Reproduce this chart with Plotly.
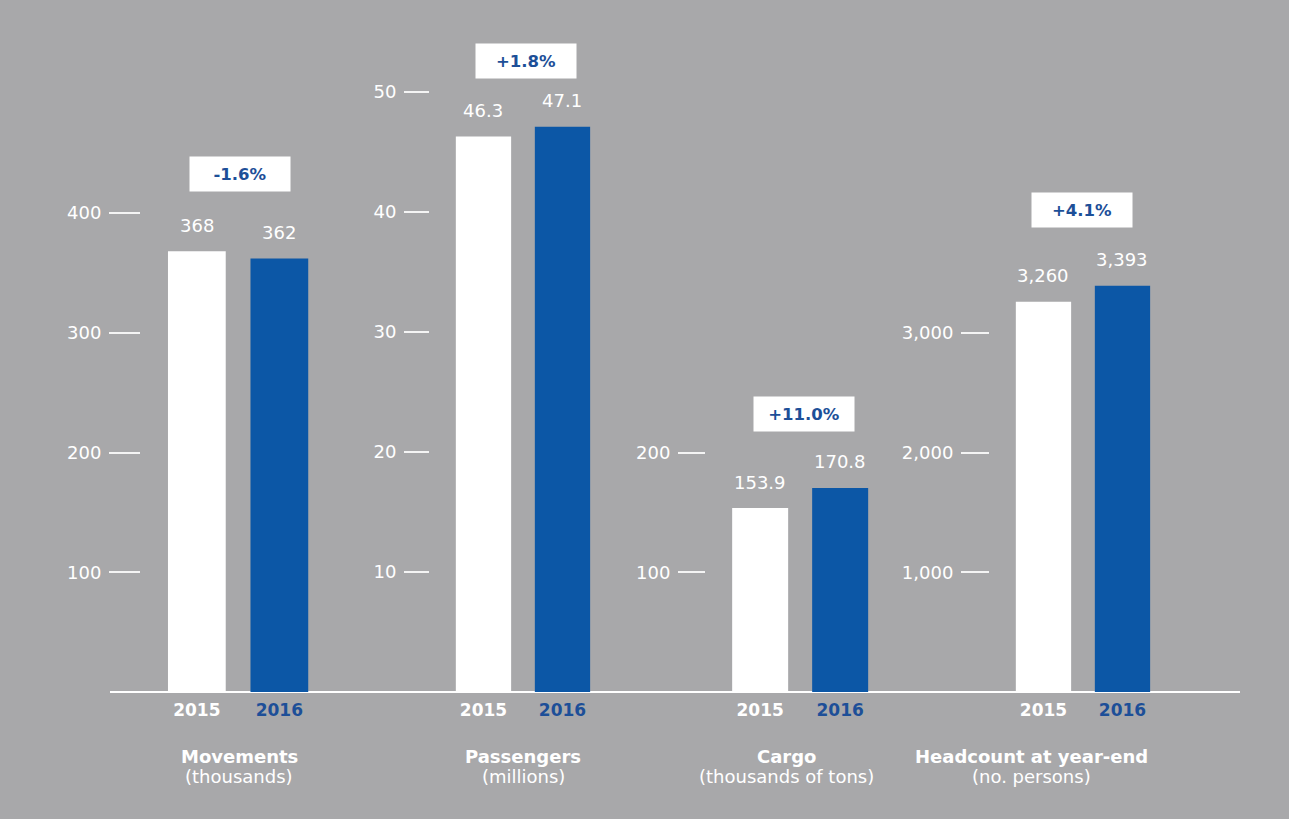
import plotly.graph_objects as go

# ---------------- data ----------------
years = ["2015", "2016"]
movements = [368, 362]
passengers = [46.3, 47.1]
cargo = [153.9, 170.8]
headcount = [3260, 3393]

changes = ["-1.6%", "+1.8%", "+11.0%", "+4.1%"]
titles = ["Movements", "Passengers", "Cargo", "Headcount at year-end"]
subtitles = ["(thousands)", "(millions)", "(thousands of tons)", "(no. persons)"]

mov_ticks = [100, 200, 300, 400]
pax_ticks = [10, 20, 30, 40, 50]
cargo_ticks = [100, 200]
head_ticks = [1000, 2000, 3000]

value_fmt = ["{:.0f}", "{:.1f}", "{:.1f}", "{:,.0f}"]
series = [movements, passengers, cargo, headcount]
tick_sets = [mov_ticks, pax_ticks, cargo_ticks, head_ticks]
tick_fmt = ["{:.0f}", "{:.0f}", "{:.0f}", "{:,.0f}"]

# ---------------- layout constants ----------------
W, H = 1289, 819
BG = "#a8a8aa"
BLUE = "#0c57a6"
BLUE_TXT = "#1d4f98"
FONT = "DejaVu Sans"

def px(x):
    return x / W

def py(y):
    return 1 - y / H

axis_px = [141, 430, 706, 990]       # y-axis (tick end) pixel positions
spacing = [82.5, 79, 80, 79]          # pixel spacing between the two bars
yranges = [561.2, 56.0, 562.3, 5614]  # axis tops (scale matched)
ticklens = [31, 25, 27, 28]
box_px = [(240, 174), (526, 61), (804, 414), (1082, 210)]
title_cx = [239, 523, 786, 1031]
R0, R1 = -0.677, 1.677
base_y = 692
top_y = 20

fig = go.Figure()

for i in range(4):
    n = "" if i == 0 else str(i + 1)
    xa = "x" + n
    ya = "y" + n
    fig.add_trace(go.Bar(
        x=[0, 1], y=series[i],
        marker=dict(color=["#ffffff", BLUE], line=dict(width=0)),
        width=0.7, xaxis=xa, yaxis=ya, showlegend=False, hoverinfo="skip",
    ))
    left = axis_px[i]
    right = left + (R1 - R0) * spacing[i]
    fig.layout["xaxis" + n] = dict(
        domain=[px(left), px(right)], range=[R0, R1], anchor=ya,
        tickvals=[0, 1],
        ticktext=["<b>" + years[0] + "</b>",
                  "<span style='color:%s'><b>%s</b></span>" % (BLUE_TXT, years[1])],
        tickfont=dict(family=FONT, size=17, color="white"),
        ticklabelstandoff=6,
        showgrid=False, zeroline=False, showline=False, ticks="",
        fixedrange=True,
    )
    fig.layout["yaxis" + n] = dict(
        domain=[py(base_y), py(top_y)], range=[0, yranges[i]], anchor=xa,
        tickvals=tick_sets[i],
        ticktext=[tick_fmt[i].format(v) for v in tick_sets[i]],
        tickfont=dict(family=FONT, size=18, color="white"),
        ticks="outside", ticklen=ticklens[i], tickwidth=2, tickcolor="#f4f4f4",
        ticklabelstandoff=4,
        showgrid=False, zeroline=False, showline=False, fixedrange=True,
    )
    # value labels
    for j in range(2):
        fig.add_annotation(
            x=j, y=series[i][j], xref=xa, yref=ya,
            text=value_fmt[i].format(series[i][j]),
            showarrow=False, yshift=26, yanchor="middle",
            font=dict(family=FONT, size=18, color="white"),
        )
    # percentage boxes
    bx, by = box_px[i]
    fig.add_annotation(
        x=px(bx), y=py(by), xref="paper", yref="paper",
        text="<b>" + changes[i] + "</b>", showarrow=False,
        bgcolor="white", width=100, height=34, borderpad=0,
        xanchor="center", yanchor="middle",
        font=dict(family=FONT, size=16.5, color=BLUE_TXT),
    )
    # titles
    fig.add_annotation(
        x=px(title_cx[i]), y=py(756), xref="paper", yref="paper",
        text="<b>" + titles[i] + "</b>", showarrow=False,
        xanchor="center", yanchor="middle",
        font=dict(family=FONT, size=18, color="white"),
    )
    fig.add_annotation(
        x=px(title_cx[i]), y=py(776), xref="paper", yref="paper",
        text=subtitles[i], showarrow=False,
        xanchor="center", yanchor="middle",
        font=dict(family=FONT, size=18, color="white"),
    )

# baseline
fig.add_shape(type="line", xref="paper", yref="paper",
              x0=px(110), x1=px(1240), y0=py(base_y), y1=py(base_y),
              line=dict(color="white", width=2), layer="below")

fig.update_layout(
    width=W, height=H, autosize=False,
    margin=dict(l=0, r=0, t=0, b=0),
    paper_bgcolor=BG, plot_bgcolor="rgba(0,0,0,0)",
    bargap=0.3,
)

fig.write_html(
    "out.html",
    config={"displayModeBar": False, "staticPlot": True},
    post_script="document.body.style.margin='0';document.body.style.background='%s';" % BG,
)
